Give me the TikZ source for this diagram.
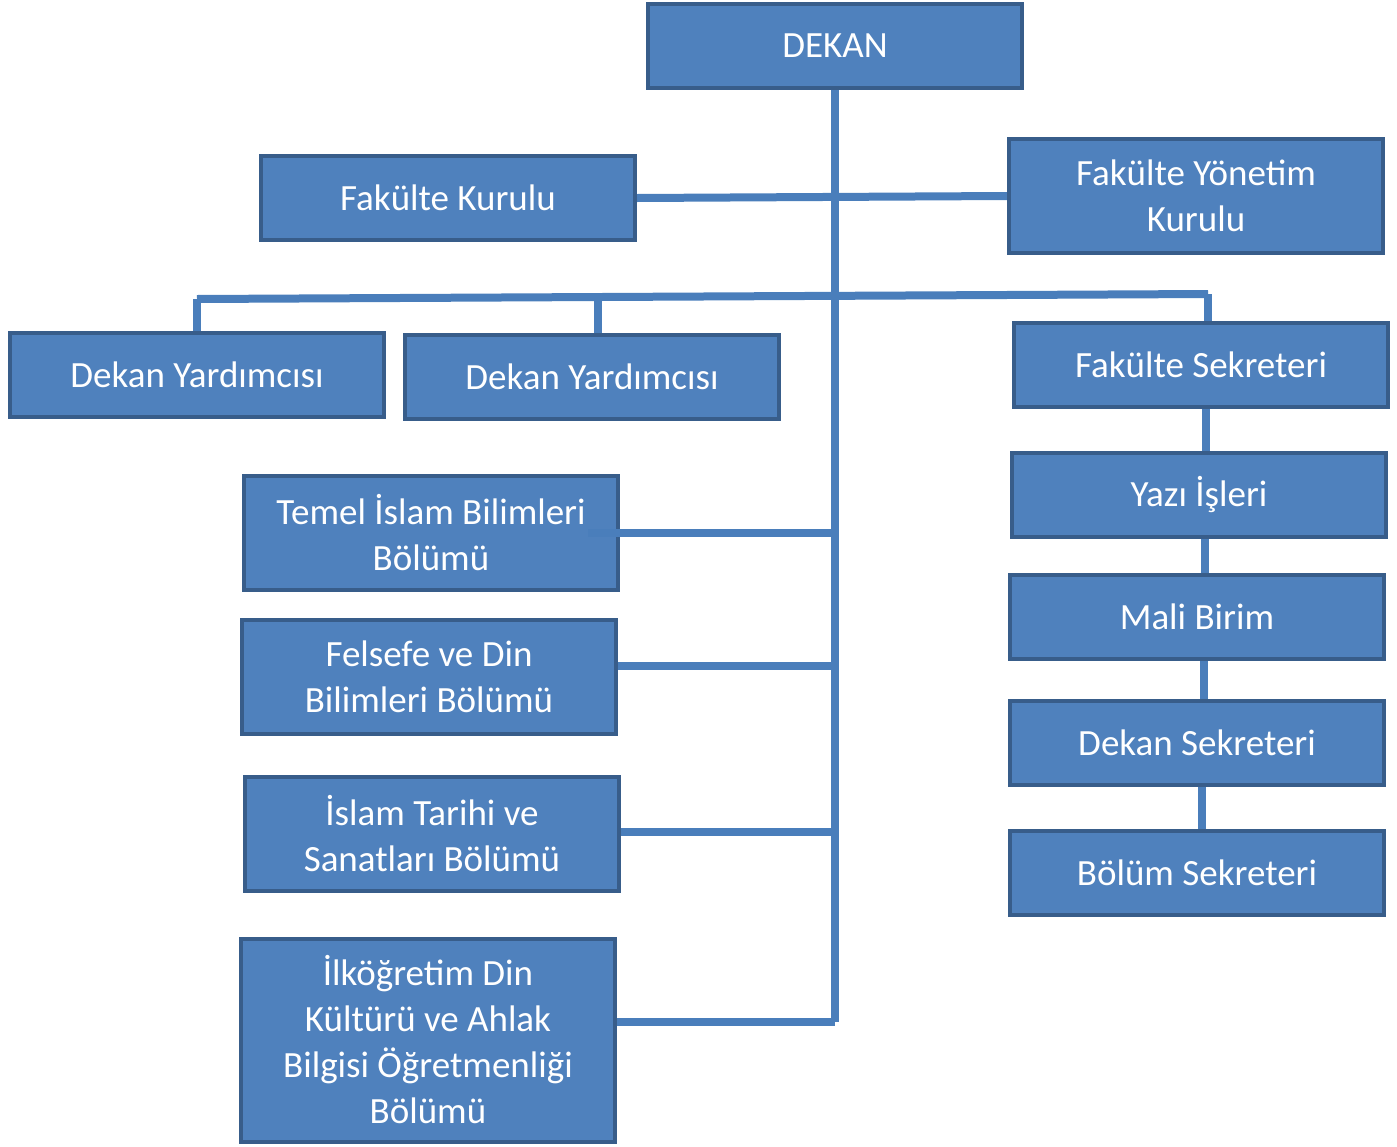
\documentclass[tikz,border=0pt]{standalone}
\usepackage{fontspec}
\setmainfont{Carlito}
\usetikzlibrary{backgrounds}
\definecolor{boxfill}{HTML}{4F81BD}
\definecolor{boxedge}{HTML}{385D8A}
\definecolor{linecol}{HTML}{4A7EBB}
\begin{document}
\begin{tikzpicture}[x=1pt,y=-1pt,
  unit/.style={draw=boxedge,line width=4pt,fill=boxfill,text=white,
    minimum width=374pt,minimum height=84pt,align=center,inner sep=0pt,
    font=\fontsize{37}{46}\selectfont},
  tall/.style={unit,minimum height=114pt},
  link/.style={draw=linecol,line width=8pt}]
\useasboundingbox (0,0) rectangle (1397,1146);
% coordinates
\coordinate (tbot) at (835,1022);
\coordinate (hl) at (197,299);
\coordinate (hr) at (1208,294);
\coordinate (h2) at (598,298);
\coordinate (b1) at (835,533);
\coordinate (b1in) at (588,533);
\coordinate (b2) at (835,666);
\coordinate (b3) at (835,832);
\coordinate (b4) at (835,1022);
% nodes
\node[unit] (dekan) at (835,46) {DEKAN};
\node[unit] (fk) at (448,198) {Fakülte Kurulu};
\node[tall] (fyk) at (1196,196) {Fakülte Yönetim\\Kurulu};
\node[unit] (dy1) at (197,375) {Dekan Yardımcısı};
\node[unit] (dy2) at (592,377) {Dekan Yardımcısı};
\node[unit] (fs) at (1201,365) {Fakülte Sekreteri};
\node[unit] (yi) at (1199,495) {Yazı İşleri};
\node[unit] (mb) at (1197,617) {Mali Birim};
\node[unit] (ds) at (1197,743) {Dekan Sekreteri};
\node[unit] (bs) at (1197,873) {Bölüm Sekreteri};
\node[tall] (tib) at (431,533) {Temel İslam Bilimleri\\Bölümü};
\node[tall] (fdb) at (429,677) {Felsefe ve Din\\Bilimleri Bölümü};
\node[tall] (itsb) at (432,834) {İslam Tarihi ve\\Sanatları Bölümü};
\node[unit,minimum height=203pt] (ilk) at (428,1040) {İlköğretim Din\\Kültürü ve Ahlak\\Bilgisi Öğretmenliği\\Bölümü};
% connectors
\begin{scope}[on background layer]
\draw[link] (dekan.south) -- (tbot);
\draw[link] (fk.east) -- (fyk.west);
\draw[link] (hl) -- (hr);
\draw[link] (hl) -- (dy1.north);
\draw[link] (h2) -- (dy2.north -| h2);
\draw[link] (hr) -- (fs.north -| hr);
\draw[link] (fs.south -| 1206,0) -- (yi.north -| 1206,0);
\draw[link] (yi.south -| 1205,0) -- (mb.north -| 1205,0);
\draw[link] (mb.south -| 1204,0) -- (ds.north -| 1204,0);
\draw[link] (ds.south -| 1202,0) -- (bs.north -| 1202,0);
\draw[link] (fdb.east |- b2) -- (b2);
\draw[link] (itsb.east |- b3) -- (b3);
\draw[link] (ilk.east |- b4) -- (b4);
\end{scope}
\draw[link] (b1in) -- (b1);
\end{tikzpicture}
\end{document}
